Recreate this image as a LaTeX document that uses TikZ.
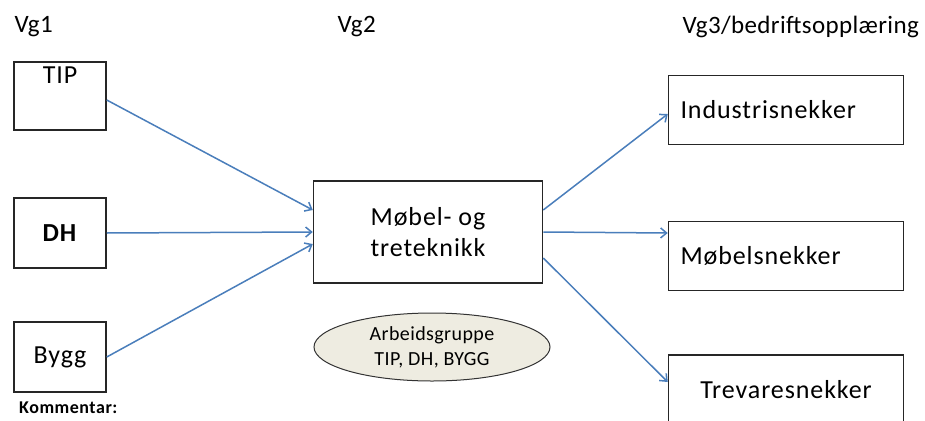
\documentclass[tikz,border=0pt]{standalone}
\usepackage{fontspec}
\setmainfont{Carlito}
\usepackage{tikz}
\usetikzlibrary{shapes.geometric, arrows.meta, positioning}
\definecolor{arrowblue}{RGB}{74,126,187}
\definecolor{groupfill}{RGB}{238,236,225}

\begin{document}
\begin{tikzpicture}[x=1pt, y=-1pt,
  box/.style={draw=black!85, line width=1.5pt, inner sep=0pt},
  lbl/.style={font=\fontsize{26}{31}\selectfont\addfontfeatures{LetterSpace=3.5}},
  head/.style={font=\fontsize{25}{30}\selectfont\addfontfeatures{LetterSpace=1.5}, anchor=west},
  flow/.style={arrowblue, line width=1.5pt, -{Straight Barb[length=6pt, width=10pt]}}]

  \useasboundingbox (0,0) rectangle (925,420);

  % Column headings
  \node[head] (vg1) at (11,27) {Vg1};
  \node[head] (vg2) at (334,27) {Vg2};
  \node[head] (vg3) at (679,27) {Vg3/bedriftsopplæring};

  % Vg1 programmes
  \node[box, minimum width=92, minimum height=68,
        label={[lbl, anchor=north, yshift=-2pt]north:TIP}] (tip) at (60,96) {};
  \node[box, lbl, minimum width=92, minimum height=70] (dh) at (60,233) {\textbf{DH}};
  \node[box, lbl, minimum width=92, minimum height=70] (bygg) at (60,357) {Bygg};
  \node[font=\fontsize{18}{20}\selectfont\bfseries\addfontfeatures{LetterSpace=3}, anchor=west,
        inner sep=1pt] (komm) at (18,408) {Kommentar:};

  % Vg2
  \node[box, lbl, minimum width=229, minimum height=102, align=center] (mid) at (428,232)
    {Møbel- og\\treteknikk};
  \node[ellipse, draw=black!80, line width=1pt, fill=groupfill, minimum width=236,
        minimum height=68, inner sep=0pt, align=center,
        font=\fontsize{20}{25}\selectfont\addfontfeatures{LetterSpace=2}] (gruppe) at (432,347)
    {Arbeidsgruppe\\TIP, DH, BYGG};

  % Vg3 / bedrift
  \node[box, lbl, minimum width=235, minimum height=69, text width=211, align=left] (ind) at (786,110)
    {Industrisnekker};
  \node[box, lbl, minimum width=235, minimum height=69, text width=211, align=left] (mob) at (786,256)
    {Møbelsnekker};
  \node[box, lbl, minimum width=235, minimum height=70, align=center] (tre) at (786,390)
    {Trevaresnekker};

  % Arrows into Vg2
  \draw[flow] ([yshift=-4pt]tip.east) -- ([yshift=22pt]mid.west);
  \draw[flow] (dh.east) -- (mid.west);
  \draw[flow] (bygg.east) -- ([yshift=-12pt]mid.west);

  % Arrows out of Vg2
  \draw[flow] ([yshift=22pt]mid.east) -- ([yshift=-4pt]ind.west);
  \draw[flow] (mid.east) -- ([yshift=23pt]mob.west);
  \draw[flow] ([yshift=-26pt]mid.east) -- ([yshift=8pt]tre.west);

\end{tikzpicture}
\end{document}
